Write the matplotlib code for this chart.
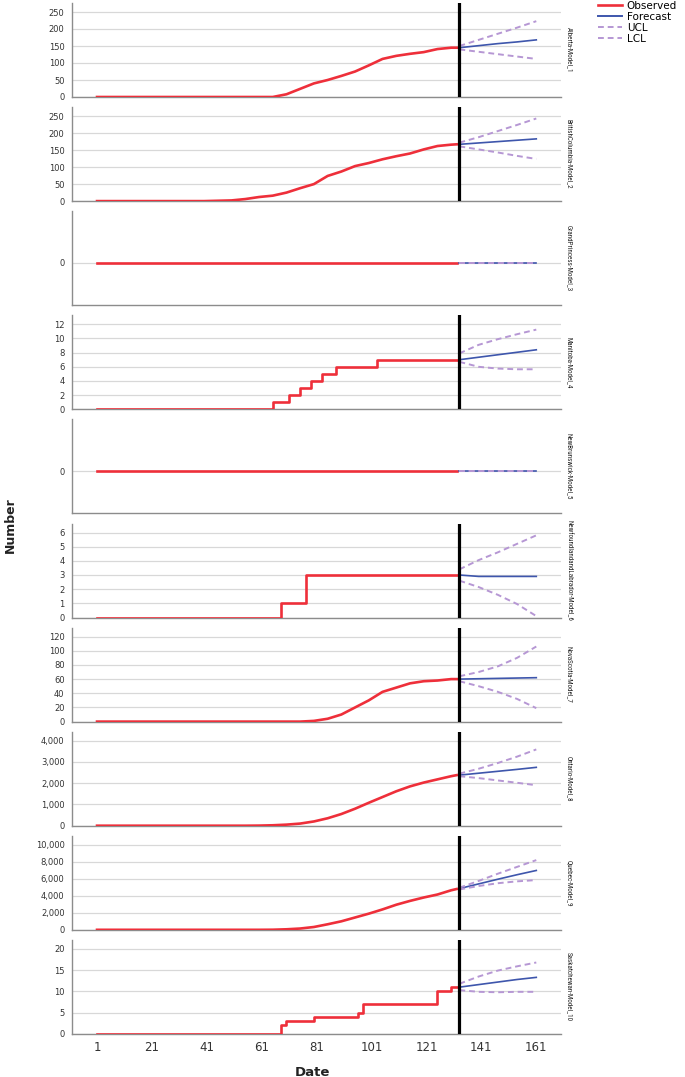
import matplotlib
matplotlib.use("Agg")
import matplotlib.pyplot as plt
from matplotlib.lines import Line2D
from matplotlib.ticker import FuncFormatter
from matplotlib import font_manager

# ---- data ----
model_names = [
    "Alberta-Model_1", "BritishColumbia-Model_2", "GrandPrincess-Model_3",
    "Manitoba-Model_4", "NewBrunswick-Model_5", "NewfoundlandandLabrador-Model_6",
    "NovaScotia-Model_7", "Ontario-Model_8", "Quebec-Model_9", "Saskatchewan-Model_10",
]

obs_days = [1, 40, 45, 50, 55, 60, 65, 70, 75, 80, 85, 90, 95, 100, 105, 110, 115, 120, 125, 130, 132]
fc_days = [133, 140, 147, 154, 161]

alberta_obs = [0, 0, 0, 0, 0, 0, 0, 8, 24, 40, 50, 62, 75, 93, 112, 121, 127, 132, 141, 145, 145]
alberta_fc = [145, 151, 157, 162, 168]
alberta_ucl = [150, 168, 186, 204, 223]
alberta_lcl = [140, 133, 126, 119, 112]

bc_obs = [0, 0, 1, 2, 6, 12, 16, 25, 38, 50, 74, 87, 103, 112, 123, 132, 140, 152, 162, 166, 167]
bc_fc = [167, 171, 175, 179, 183]
bc_ucl = [172, 188, 206, 224, 243]
bc_lcl = [161, 152, 143, 133, 124]

gp_days = [1, 132]
gp_obs = [0, 0]
gp_fc = [0, 0, 0, 0, 0]

manitoba_days = [1, 65, 71, 75, 79, 83, 88, 103, 132]
manitoba_obs = [0, 1, 2, 3, 4, 5, 6, 7, 7]
manitoba_fc = [7.0, 7.35, 7.7, 8.05, 8.4]
manitoba_ucl = [7.9, 9.1, 9.9, 10.6, 11.25]
manitoba_lcl = [6.7, 6.0, 5.75, 5.65, 5.65]

nb_days = [1, 132]
nb_obs = [0, 0]
nb_fc = [0, 0, 0, 0, 0]

nl_days = [1, 68, 77, 132]
nl_obs = [0, 1, 3, 3]
nl_fc = [3.0, 2.9, 2.9, 2.9, 2.9]
nl_ucl = [3.4, 4.05, 4.6, 5.2, 5.8]
nl_lcl = [2.6, 2.15, 1.6, 0.95, 0.1]

ns_obs = [0, 0, 0, 0, 0, 0, 0, 0, 0, 1, 4, 10, 20, 30, 42, 48, 54, 57, 58, 60, 60]
ns_fc = [60, 60.5, 61, 61.5, 62]
ns_ucl = [64, 70, 78, 90, 106]
ns_lcl = [57, 50, 42, 32, 19]

on_obs = [0, 0, 0, 0, 0, 5, 20, 50, 100, 200, 350, 550, 800, 1080, 1350, 1620, 1850, 2030, 2180, 2330, 2380]
on_fc = [2380, 2470, 2560, 2650, 2746]
on_ucl = [2450, 2680, 2950, 3250, 3590]
on_lcl = [2330, 2240, 2130, 2020, 1905]

qc_obs = [0, 0, 0, 0, 0, 0, 10, 60, 150, 330, 650, 1000, 1450, 1900, 2400, 2950, 3400, 3800, 4150, 4650, 4800]
qc_fc = [4850, 5400, 5950, 6480, 6980]
qc_ucl = [4950, 5750, 6600, 7400, 8200]
qc_lcl = [4750, 5150, 5480, 5700, 5850]

sk_days = [1, 68, 70, 80, 96, 98, 125, 130, 132]
sk_obs = [0, 2, 3, 4, 5, 7, 10, 11, 11]
sk_fc = [11.0, 11.6, 12.2, 12.8, 13.3]
sk_ucl = [11.8, 13.5, 14.9, 15.9, 16.8]
sk_lcl = [10.3, 9.9, 9.8, 9.9, 9.9]

y_tick_max = [250, 250, 0, 12, 0, 6, 120, 4000, 10000, 20]
y_tick_step = [50, 50, 1, 2, 1, 1, 20, 1000, 2000, 5]
x_ticks = [1, 21, 41, 61, 81, 101, 121, 141, 161]

panels = [
    (obs_days, alberta_obs, False, alberta_fc, alberta_ucl, alberta_lcl),
    (obs_days, bc_obs, False, bc_fc, bc_ucl, bc_lcl),
    (gp_days, gp_obs, False, gp_fc, gp_fc, gp_fc),
    (manitoba_days, manitoba_obs, True, manitoba_fc, manitoba_ucl, manitoba_lcl),
    (nb_days, nb_obs, False, nb_fc, nb_fc, nb_fc),
    (nl_days, nl_obs, True, nl_fc, nl_ucl, nl_lcl),
    (obs_days, ns_obs, False, ns_fc, ns_ucl, ns_lcl),
    (obs_days, on_obs, False, on_fc, on_ucl, on_lcl),
    (obs_days, qc_obs, False, qc_fc, qc_ucl, qc_lcl),
    (sk_days, sk_obs, True, sk_fc, sk_ucl, sk_lcl),
]

# ---- style ----
RED = "#EE2F3A"
BLUE = "#3E56AC"
PURPLE = "#B697D4"
GRID = "#D8D8D8"
SPINE = "#8C8C8C"

# pick a narrow face for the side labels if one is installed
installed = {f.name for f in font_manager.fontManager.ttflist}
narrow = None
for cand in ["Liberation Sans Narrow", "DejaVu Sans Condensed", "Roboto Condensed",
             "Open Sans Condensed", "Liberation Sans"]:
    if cand in installed:
        narrow = cand
        break
label_size = 5 if narrow in ("Liberation Sans Narrow", "DejaVu Sans Condensed",
                             "Roboto Condensed", "Open Sans Condensed") else 4.4
label_family = [narrow or "DejaVu Sans", "DejaVu Sans"]

W, H = 685, 1077
fig = plt.figure(figsize=(W / 100, H / 100), dpi=100)

left_px, right_px = 71.5, 561
panel_h = 94
for i, (days, obs, step, fc, ucl, lcl) in enumerate(panels):
    top = 3 + i * 104.1
    ax = fig.add_axes([left_px / W, 1 - (top + panel_h) / H,
                       (right_px - left_px) / W, panel_h / H])

    ax.plot(days, obs, color=RED, lw=1.9,
            drawstyle="steps-post" if step else "default", zorder=3)
    ax.plot(fc_days, ucl, color=PURPLE, lw=1.4, ls=(0, (3, 2)), zorder=4)
    ax.plot(fc_days, lcl, color=PURPLE, lw=1.4, ls=(0, (3, 2)), zorder=4)
    ax.plot(fc_days, fc, color=BLUE, lw=1.2, zorder=3)

    ymax = y_tick_max[i]
    if ymax == 0:
        ax.set_ylim(-0.9, 1.1)
        ax.set_yticks([0])
    else:
        ax.set_ylim(0, ymax * panel_h / 85)
        ax.set_yticks(range(0, ymax + 1, y_tick_step[i]))
        ax.axvline(133, color="black", lw=2.3, zorder=5)
    ax.yaxis.set_major_formatter(FuncFormatter(lambda v, p: f"{v:,.0f}"))
    ax.set_xlim(-8.3, 170)
    ax.set_xticks(x_ticks)

    ax.grid(axis="y", color=GRID, lw=0.9, zorder=0)
    ax.set_axisbelow(True)
    for s in ["top", "right"]:
        ax.spines[s].set_visible(False)
    for s in ["left", "bottom"]:
        ax.spines[s].set_color(SPINE)
        ax.spines[s].set_linewidth(1.0)
    ax.tick_params(axis="y", length=0, pad=5, labelsize=6, labelcolor="#333333")
    ax.tick_params(axis="x", length=0, pad=5, labelsize=8.5, labelcolor="#333333",
                   labelbottom=(i == len(panels) - 1))

    fig.text(569 / W, 1 - (top + panel_h / 2) / H, model_names[i], rotation=270,
             ha="center", va="center", fontsize=label_size,
             family=label_family, color="#222222")

fig.text(10 / W, 1 - 525 / H, "Number", rotation=90, ha="center", va="center",
         fontsize=9, fontweight="bold", color="#222222")
fig.text(312 / W, 1 - 1072 / H, "Date", ha="center", va="center",
         fontsize=9.5, fontweight="bold", color="#222222")

handles = [
    Line2D([], [], color=RED, lw=1.9),
    Line2D([], [], color=BLUE, lw=1.4),
    Line2D([], [], color=PURPLE, lw=1.4, ls=(0, (3, 2))),
    Line2D([], [], color=PURPLE, lw=1.4, ls=(0, (3, 2))),
]
fig.legend(handles, ["Observed", "Forecast", "UCL", "LCL"],
           loc="upper left", bbox_to_anchor=(598 / W, 1 - 1 / H),
           frameon=False, fontsize=7.5, handlelength=2.3, handletextpad=0.45,
           labelspacing=0.1, borderpad=0, borderaxespad=0)

fig.savefig("out.png", dpi=100)
